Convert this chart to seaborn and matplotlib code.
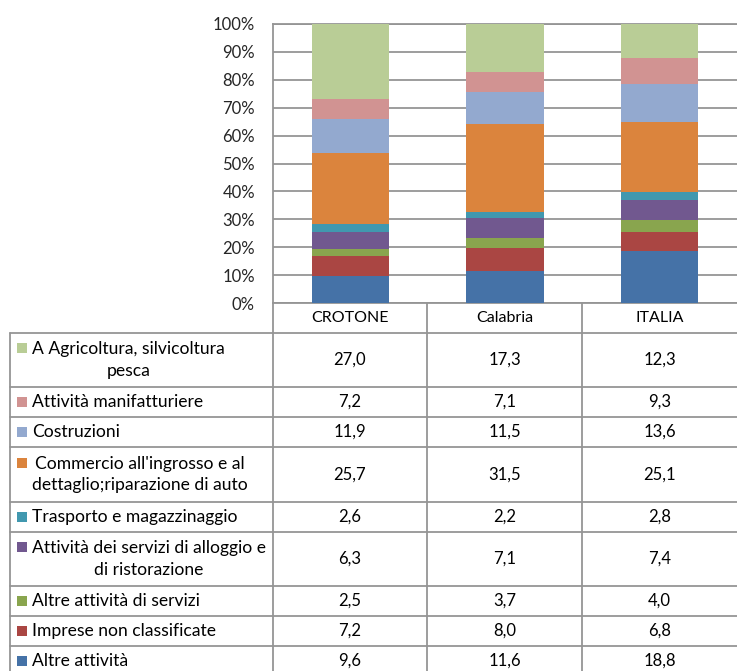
import numpy as np
import matplotlib
matplotlib.use("Agg")
import matplotlib.pyplot as plt
import seaborn as sns

# ---------------- data ----------------
categories = ["CROTONE", "Calabria", "ITALIA"]
# series listed from top of table (top of stack) to bottom
series_labels = [
    "A Agricoltura, silvicoltura\npesca",
    "Attività manifatturiere",
    "Costruzioni",
    "Commercio all'ingrosso e al\ndettaglio;riparazione di auto",
    "Trasporto e magazzinaggio",
    "Attività dei servizi di alloggio e\ndi ristorazione",
    "Altre attività di servizi",
    "Imprese non classificate",
    "Altre attività",
]
agricoltura = [27.0, 17.3, 12.3]
manifatturiere = [7.2, 7.1, 9.3]
costruzioni = [11.9, 11.5, 13.6]
commercio = [25.7, 31.5, 25.1]
trasporto = [2.6, 2.2, 2.8]
alloggio = [6.3, 7.1, 7.4]
altre_servizi = [2.5, 3.7, 4.0]
non_classificate = [7.2, 8.0, 6.8]
altre_attivita = [9.6, 11.6, 18.8]
series_values = [agricoltura, manifatturiere, costruzioni, commercio, trasporto,
                 alloggio, altre_servizi, non_classificate, altre_attivita]
series_colors = ["#B9CD96", "#D19392", "#93A9CF", "#DB843D", "#4198AF",
                 "#71588F", "#89A54E", "#AA4643", "#4572A7"]
yticks = [0, 10, 20, 30, 40, 50, 60, 70, 80, 90, 100]

# ---------------- style ----------------
sns.set_style("white")
plt.rcParams["font.family"] = ["Lato", "DejaVu Sans"]
FS_TICK = 12
FS_HEAD = 11.5
FS_LAB = 12.6
FS_VAL = 12
GRID = "#959595"

W, H = 737, 671
fig = plt.figure(figsize=(W / 100, H / 100), dpi=100)

ax_left, ax_right, ax_top, ax_bot = 273, 737, 24, 303
ax = fig.add_axes([ax_left / W, 1 - ax_bot / H, (ax_right - ax_left) / W, (ax_bot - ax_top) / H])

# stacked bars (bottom series first in stack order)
stack = list(zip(series_values, series_colors, series_labels))[::-1]
vals = np.array([s[0] for s in stack])
cum = np.cumsum(vals, axis=0)
for i in range(len(stack) - 1, -1, -1):
    sns.barplot(x=categories, y=cum[i], color=stack[i][1], width=0.5, saturation=1,
                order=categories, ax=ax, edgecolor="none", linewidth=0, zorder=3)

ax.set_xlim(-0.5, 2.5)
ax.set_ylim(0, 100)
ax.set_yticks(yticks)
ax.set_yticklabels([f"{t}%" for t in yticks], fontsize=FS_TICK)
ax.set_xticks([])
ax.set_xlabel("")
ax.set_ylabel("")
ax.tick_params(axis="y", length=0, pad=13)
ax.grid(axis="y", color=GRID, linewidth=1.3, zorder=0)
for side in ["left", "top", "bottom"]:
    ax.spines[side].set_visible(True)
    ax.spines[side].set_color(GRID)
    ax.spines[side].set_linewidth(1.3)
ax.spines["right"].set_visible(False)

# ---------------- data table (pixel coordinate overlay) ----------------
ov = fig.add_axes([0, 0, 1, 1], zorder=5)
ov.set_xlim(0, W)
ov.set_ylim(H, 0)
ov.axis("off")
ov.patch.set_alpha(0)

col_edges = [273, 427, 582, 737]
col_centers = [(col_edges[i] + col_edges[i + 1]) / 2 for i in range(3)]
row_edges = [333, 387, 417, 447, 502, 532, 586, 616, 646, 676]

# header row
for c, xc in zip(categories, col_centers):
    ov.text(xc, 318, c, ha="center", va="center", fontsize=FS_HEAD, color="black")
for xe in col_edges[1:3]:
    ov.plot([xe, xe], [ax_bot, H], color=GRID, lw=1.3)
ov.plot([273, 273], [ax_bot, H], color=GRID, lw=1.3)
ov.plot([10, 10], [row_edges[0], H], color=GRID, lw=1.3)
for ye in row_edges[:-1]:
    ov.plot([10, W], [ye, ye], color=GRID, lw=1.3)

for r, (lab, vals_r, col) in enumerate(zip(series_labels, series_values, series_colors)):
    y0, y1 = row_edges[r], row_edges[r + 1]
    yc = (y0 + y1) / 2
    nlines = lab.count("\n") + 1
    ov.text(32, yc, lab, ha="left", va="center", multialignment="center",
            fontsize=FS_LAB, linespacing=1.4, color="black")
    ky = yc - (nlines - 1) * 12
    ov.add_patch(plt.Rectangle((17, ky - 5), 10, 10, facecolor=col, edgecolor="none"))
    for v, xc in zip(vals_r, col_centers):
        ov.text(xc, yc, f"{v:.1f}".replace(".", ","), ha="center", va="center",
                fontsize=FS_VAL, color="black")

fig.savefig("out.png", dpi=100)
